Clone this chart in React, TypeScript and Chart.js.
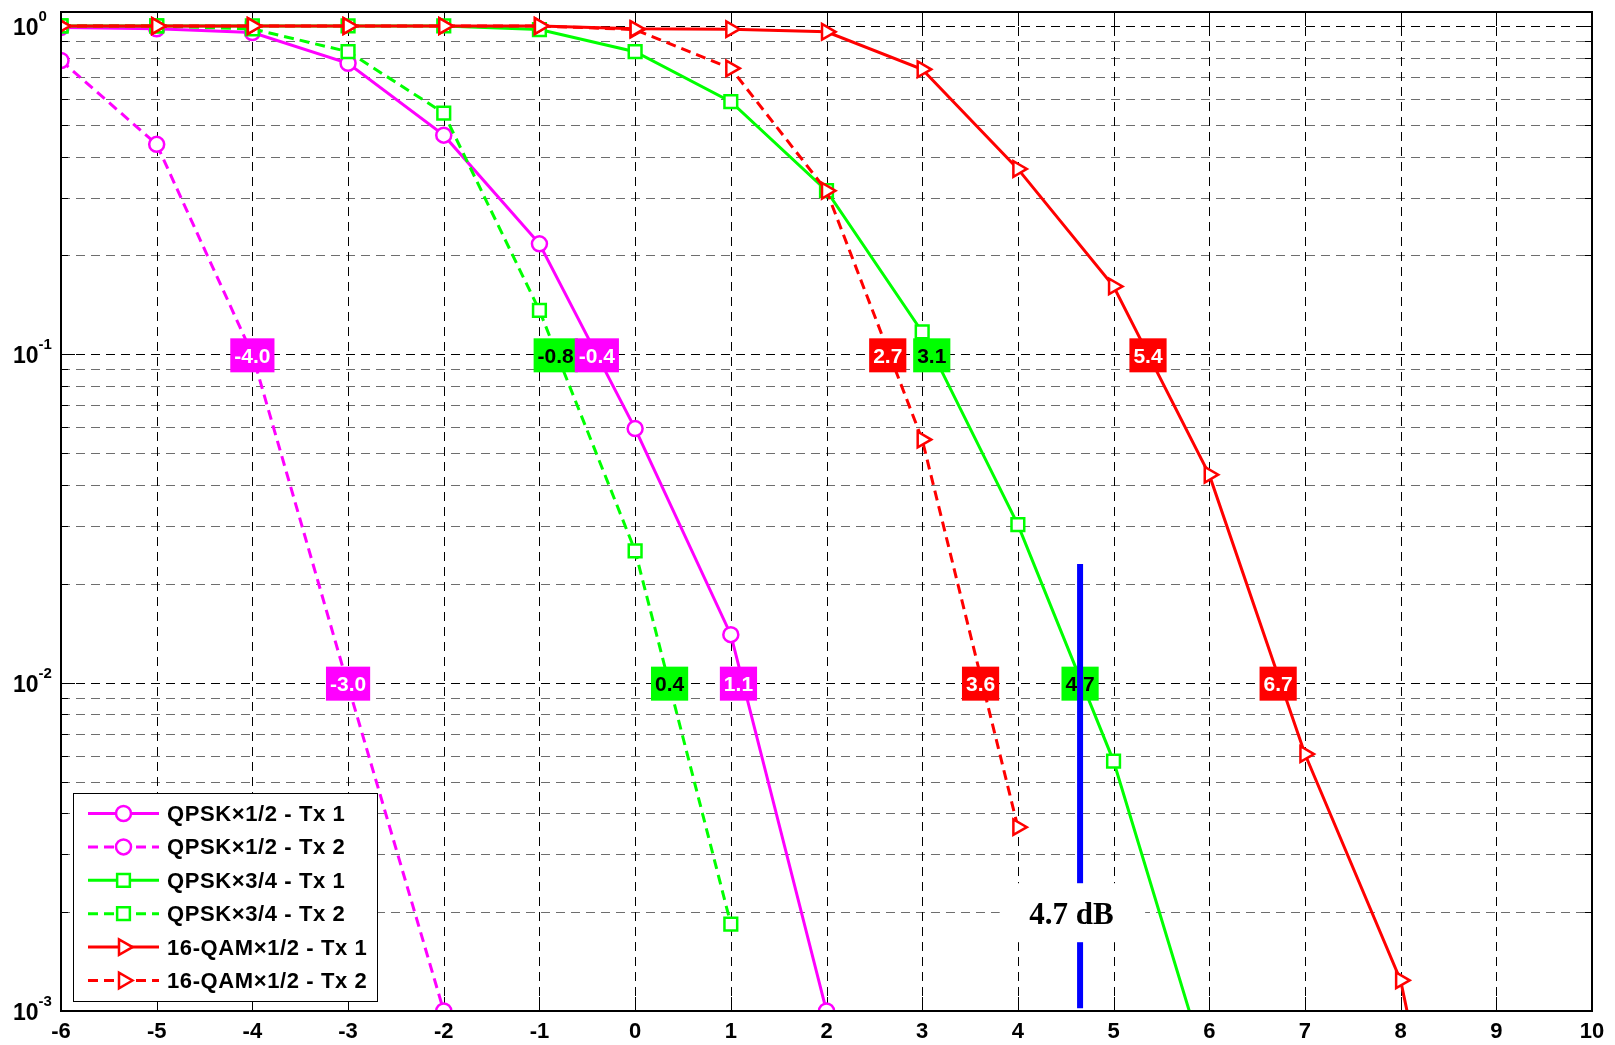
import React, { useEffect, useRef } from "react";
import { Chart, registerables } from "chart.js";

Chart.register(...registerables);

// ---------- data ----------
const snr = [-6, -5, -4, -3, -2, -1, 0, 1, 2, 3, 4, 5, 6, 7, 8, 9];

const qpsk12Tx1 = [0.99, 0.98, 0.955, 0.77, 0.465, 0.217, 0.0594, 0.014, 0.001, null, null, null, null, null, null, null];
const qpsk12Tx2 = [0.785, 0.436, 0.1, 0.0098, 0.001, null, null, null, null, null, null, null, null, null, null, null];
const qpsk34Tx1 = [1, 1, 1, 1, 1, 0.975, 0.835, 0.588, 0.315, 0.117, 0.0303, 0.00577, 0.00063, null, null, null];
const qpsk34Tx2 = [1, 1, 0.98, 0.835, 0.543, 0.136, 0.0252, 0.00184, null, null, null, null, null, null, null, null];
const qam16Tx1 = [1, 1, 1, 1, 1, 1, 0.98, 0.978, 0.96, 0.738, 0.367, 0.161, 0.043, 0.00606, 0.00124, 0.00005];
const qam16Tx2 = [1, 1, 1, 1, 1, 1, 0.975, 0.743, 0.315, 0.055, 0.00363, null, null, null, null, null];

const seriesValues = [qpsk12Tx1, qpsk12Tx2, qpsk34Tx1, qpsk34Tx2, qam16Tx1, qam16Tx2];
const seriesNames = [
  "QPSK×1/2 - Tx 1",
  "QPSK×1/2 - Tx 2",
  "QPSK×3/4 - Tx 1",
  "QPSK×3/4 - Tx 2",
  "16-QAM×1/2 - Tx 1",
  "16-QAM×1/2 - Tx 2",
];
const seriesColors = ["#FF00FF", "#FF00FF", "#00FF00", "#00FF00", "#FF0000", "#FF0000"];
const seriesDashed = [false, true, false, true, false, true];
const seriesMarkers = ["circle", "circle", "rect", "rect", "triangle", "triangle"];
const seriesOrder = [6, 5, 4, 3, 1, 2];

// axes
const xTicks = [-6, -5, -4, -3, -2, -1, 0, 1, 2, 3, 4, 5, 6, 7, 8, 9, 10];
const xMin = -6;
const xMax = 10;
const yMajorTicks = [0.001, 0.01, 0.1, 1];
const yTickExponents = ["-3", "-2", "-1", "0"];
const yMin = 0.001;
const yMax = 1.103;

// threshold labels
const labelX = [-4.0, -3.0, -0.83, -0.4, 0.36, 1.08, 2.64, 3.1, 3.61, 4.65, 5.36, 6.72];
const labelY = [0.1, 0.01, 0.1, 0.1, 0.01, 0.01, 0.1, 0.1, 0.01, 0.01, 0.1, 0.01];
const labelText = ["-4.0", "-3.0", "-0.8", "-0.4", "0.4", "1.1", "2.7", "3.1", "3.6", "4.7", "5.4", "6.7"];
const labelSeries = [1, 1, 3, 0, 3, 0, 5, 2, 5, 2, 4, 4];

// gap annotation
const gapX = 4.65;
const gapTop = 0.023;
const gapBottom = 0.00102;
const gapBoxX = [3.81, 5.33];
const gapBoxY = [0.00245, 0.00162];
const gapText = "4.7 dB";
const gapTextX = 4.56;
const gapTextY = 0.00196;

const SANS = "'Liberation Sans', Arial, Helvetica, sans-serif";

function drawMarker(ctx: CanvasRenderingContext2D, style: string, x: number, y: number, color: string) {
  ctx.save();
  ctx.setLineDash([]);
  ctx.lineWidth = 2.5;
  ctx.strokeStyle = color;
  ctx.fillStyle = "#FFFFFF";
  ctx.beginPath();
  if (style === "circle") {
    ctx.arc(x, y, 7.5, 0, Math.PI * 2);
  } else if (style === "rect") {
    const s = 9 * Math.SQRT1_2;
    ctx.rect(x - s, y - s, 2 * s, 2 * s);
  } else {
    const r = 9;
    for (let i = 0; i < 3; i++) {
      const a = Math.PI / 2 + (i * 2 * Math.PI) / 3;
      const px = x + Math.sin(a) * r;
      const py = y - Math.cos(a) * r;
      if (i === 0) ctx.moveTo(px, py);
      else ctx.lineTo(px, py);
    }
    ctx.closePath();
  }
  ctx.fill();
  ctx.stroke();
  ctx.restore();
}

const bercPlugin = {
  id: "bercPlugin",
  beforeDatasetsDraw(chart: any) {
    const { ctx, chartArea: a, scales } = chart;
    const x = scales.x;
    const y = scales.y;
    ctx.save();
    ctx.lineWidth = 1;
    ctx.setLineDash([9, 6]);
    // minor horizontal grid
    ctx.strokeStyle = "#6e6e6e";
    for (let k = -3; k <= -1; k++) {
      for (let m = 2; m <= 9; m++) {
        const v = m * Math.pow(10, k);
        const py = Math.round(y.getPixelForValue(v)) + 0.5;
        ctx.beginPath();
        ctx.moveTo(a.left, py);
        ctx.lineTo(a.right, py);
        ctx.stroke();
      }
    }
    // major horizontal grid
    ctx.strokeStyle = "#000000";
    for (const v of yMajorTicks) {
      if (v === yMin) continue;
      const py = Math.round(y.getPixelForValue(v)) + 0.5;
      ctx.beginPath();
      ctx.moveTo(a.left, py);
      ctx.lineTo(a.right, py);
      ctx.stroke();
    }
    // vertical grid
    for (const t of xTicks) {
      if (t === xMin || t === xMax) continue;
      const px = Math.round(x.getPixelForValue(t)) + 0.5;
      ctx.beginPath();
      ctx.moveTo(px, a.bottom);
      ctx.lineTo(px, a.top);
      ctx.stroke();
    }
    ctx.setLineDash([]);
    // tick marks
    ctx.strokeStyle = "#000000";
    ctx.lineWidth = 1;
    for (const t of xTicks) {
      const px = Math.round(x.getPixelForValue(t)) + 0.5;
      ctx.beginPath();
      ctx.moveTo(px, a.bottom);
      ctx.lineTo(px, a.bottom - 14);
      ctx.moveTo(px, a.top);
      ctx.lineTo(px, a.top + 14);
      ctx.stroke();
    }
    for (const v of yMajorTicks) {
      const py = Math.round(y.getPixelForValue(v)) + 0.5;
      ctx.beginPath();
      ctx.moveTo(a.left, py);
      ctx.lineTo(a.left + 14, py);
      ctx.moveTo(a.right, py);
      ctx.lineTo(a.right - 14, py);
      ctx.stroke();
    }
    for (let k = -3; k <= -1; k++) {
      for (let m = 2; m <= 9; m++) {
        const v = m * Math.pow(10, k);
        const py = Math.round(y.getPixelForValue(v)) + 0.5;
        ctx.beginPath();
        ctx.moveTo(a.left, py);
        ctx.lineTo(a.left + 7, py);
        ctx.moveTo(a.right, py);
        ctx.lineTo(a.right - 7, py);
        ctx.stroke();
      }
    }
    ctx.restore();
  },
  afterDatasetsDraw(chart: any) {
    const { ctx, chartArea: a, scales } = chart;
    const x = scales.x;
    const y = scales.y;
    ctx.save();
    // threshold labels
    ctx.font = `bold 21px ${SANS}`;
    ctx.textAlign = "center";
    ctx.textBaseline = "alphabetic";
    for (let i = 0; i < labelX.length; i++) {
      const px = x.getPixelForValue(labelX[i]);
      const py = y.getPixelForValue(labelY[i]) + 1;
      const w = ctx.measureText(labelText[i]).width + 8;
      const color = seriesColors[labelSeries[i]];
      ctx.fillStyle = color;
      ctx.fillRect(px - w / 2, py - 17, w, 34);
      ctx.fillStyle = color === "#00FF00" ? "#000000" : "#FFFFFF";
      ctx.fillText(labelText[i], px, py + 7.5);
    }
    // blue gap line
    const gx = x.getPixelForValue(gapX);
    ctx.strokeStyle = "#0000FF";
    ctx.lineWidth = 6;
    ctx.beginPath();
    ctx.moveTo(gx, y.getPixelForValue(gapTop));
    ctx.lineTo(gx, y.getPixelForValue(gapBottom));
    ctx.stroke();
    // white box with text
    const bx0 = x.getPixelForValue(gapBoxX[0]);
    const bx1 = x.getPixelForValue(gapBoxX[1]);
    const by0 = y.getPixelForValue(gapBoxY[0]);
    const by1 = y.getPixelForValue(gapBoxY[1]);
    ctx.fillStyle = "#FFFFFF";
    ctx.fillRect(bx0, by0, bx1 - bx0, by1 - by0);
    ctx.fillStyle = "#000000";
    ctx.font = "bold 31px 'Liberation Serif', 'Times New Roman', serif";
    ctx.textAlign = "center";
    ctx.textBaseline = "middle";
    ctx.fillText(gapText, x.getPixelForValue(gapTextX), y.getPixelForValue(gapTextY) + 1);

    // axis box
    ctx.strokeStyle = "#000000";
    ctx.lineWidth = 2;
    ctx.strokeRect(a.left, a.top, a.right - a.left, a.bottom - a.top);

    // legend
    const lx0 = 73.5, ly0 = 793.5, lx1 = 377.5, ly1 = 1001.5;
    ctx.fillStyle = "#FFFFFF";
    ctx.fillRect(lx0, ly0, lx1 - lx0, ly1 - ly0);
    ctx.lineWidth = 1;
    ctx.strokeStyle = "#000000";
    ctx.strokeRect(lx0, ly0, lx1 - lx0, ly1 - ly0);
    ctx.font = `bold 22px ${SANS}`;
    (ctx as any).letterSpacing = "0.6px";
    ctx.textAlign = "left";
    ctx.textBaseline = "alphabetic";
    for (let i = 0; i < seriesNames.length; i++) {
      const ry = 813.5 + 33.4 * i;
      ctx.strokeStyle = seriesColors[i];
      ctx.lineWidth = 3;
      ctx.setLineDash(seriesDashed[i] ? [10, 6] : []);
      ctx.beginPath();
      ctx.moveTo(88, ry);
      ctx.lineTo(159, ry);
      ctx.stroke();
      ctx.setLineDash([]);
      drawMarker(ctx, seriesMarkers[i], 123.5, ry, seriesColors[i]);
      ctx.fillStyle = "#000000";
      const maxW = seriesNames[i].startsWith("16") ? 202 : 182;
      ctx.fillText(seriesNames[i], 167, ry + 7.5, maxW);
    }
    (ctx as any).letterSpacing = "0px";
    ctx.restore();
  },
  afterDraw(chart: any) {
    const { ctx, chartArea: a, scales } = chart;
    const x = scales.x;
    const y = scales.y;
    ctx.save();
    ctx.fillStyle = "#000000";
    ctx.font = `bold 22px ${SANS}`;
    ctx.textAlign = "center";
    ctx.textBaseline = "alphabetic";
    for (const t of xTicks) {
      ctx.fillText(String(t), x.getPixelForValue(t), a.bottom + 27);
    }
    for (let i = 0; i < yMajorTicks.length; i++) {
      const py = y.getPixelForValue(yMajorTicks[i]);
      ctx.font = `bold 23px ${SANS}`;
      ctx.textAlign = "left";
      ctx.fillText("10", 13, py + 9);
      const w = ctx.measureText("10").width;
      ctx.font = `bold 15px ${SANS}`;
      ctx.fillText(yTickExponents[i], 13 + w, py - 5);
    }
    ctx.restore();
  },
};

export default function App() {
  const canvasRef = useRef<HTMLCanvasElement | null>(null);

  useEffect(() => {
    const canvas = canvasRef.current;
    if (!canvas) return;
    const datasets = seriesValues.map((vals, i) => ({
      label: seriesNames[i],
      data: snr
        .map((s, j) => ({ x: s, y: vals[j] }))
        .filter((p) => p.y !== null && p.y !== undefined),
      borderColor: seriesColors[i],
      backgroundColor: seriesColors[i],
      borderWidth: 3,
      borderDash: seriesDashed[i] ? [10, 6] : [],
      pointStyle: seriesMarkers[i],
      pointRotation: seriesMarkers[i] === "triangle" ? 90 : 0,
      pointRadius: seriesMarkers[i] === "circle" ? 7.5 : 9,
      pointBorderWidth: 2.5,
      pointBorderColor: seriesColors[i],
      pointBackgroundColor: "#FFFFFF",
      tension: 0,
      fill: false,
      clip: 0,
      order: seriesOrder[i],
    }));
    const chart = new Chart(canvas, {
      type: "line",
      data: { datasets } as any,
      options: {
        responsive: false,
        animation: false,
        events: [],
        layout: { padding: { left: 61, right: 23, top: 12, bottom: 34 } },
        scales: {
          x: { type: "linear", min: xMin, max: xMax, display: false },
          y: { type: "logarithmic", min: yMin, max: yMax, display: false },
        },
        plugins: {
          legend: { display: false },
          tooltip: { enabled: false },
        },
      } as any,
      plugins: [bercPlugin as any],
    });
    return () => chart.destroy();
  }, []);

  return (
    <div style={{ position: "absolute", left: 0, top: 0, width: 1615, height: 1045, background: "#FFFFFF" }}>
      <canvas ref={canvasRef} width={1615} height={1045} style={{ display: "block" }} />
    </div>
  );
}
